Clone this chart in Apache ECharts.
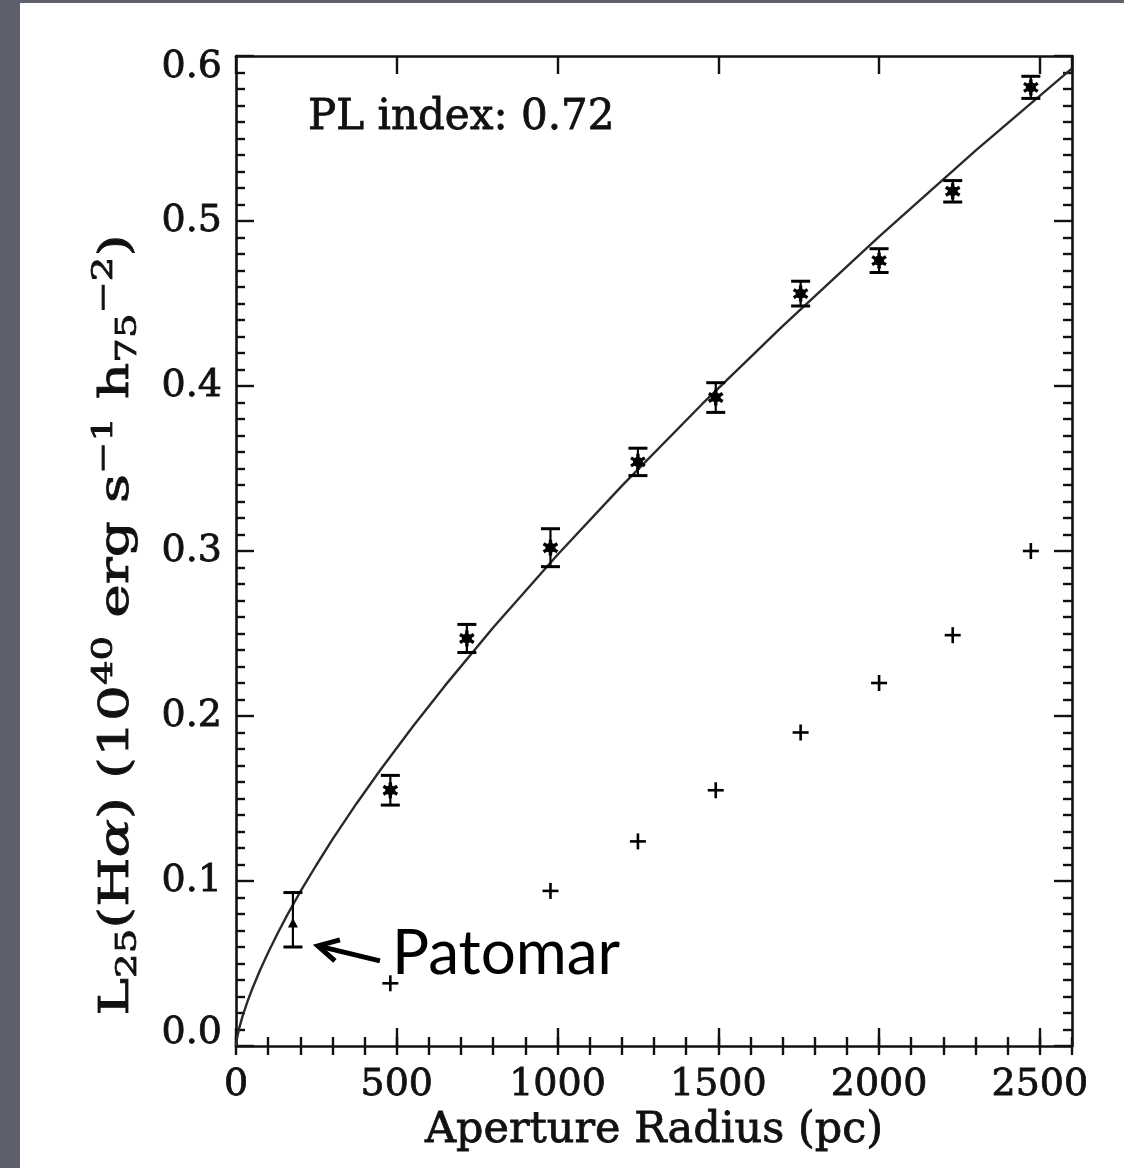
<!DOCTYPE html>
<html>
<head>
<meta charset="utf-8">
<script src="https://cdn.jsdelivr.net/npm/echarts@6/dist/echarts.min.js"></script>
<style>
  html, body { margin: 0; padding: 0; width: 1124px; height: 1168px; overflow: hidden; background: #5e606b; }
  #chart { position: absolute; left: 20px; top: 3px; width: 1104px; height: 1165px; background: #ffffff; }
</style>
</head>
<body>
<div id="chart"></div>
<script>
// Aperture H-alpha luminance measurements (asterisks with error bars)
const radius = [480, 718, 978, 1250, 1492, 1756, 2000, 2229, 2472];
const lum = [0.155, 0.247, 0.302, 0.354, 0.393, 0.456, 0.476, 0.518, 0.581];
const lumErr = [0.009, 0.0085, 0.0115, 0.0083, 0.009, 0.0075, 0.0072, 0.0065, 0.0067];

// Second measurement set (plain crosses)
const crossRadius = [480, 978, 1250, 1492, 1756, 2000, 2229, 2472];
const crossLum = [0.038, 0.094, 0.124, 0.155, 0.190, 0.220, 0.249, 0.300];

// Palomar point (triangle) with its error range
const patomarRadius = [177];
const patomarLum = [0.074];
const patomarLow = [0.060];
const patomarHigh = [0.093];

// Power-law fit curve, sampled along the aperture radius
const fitRadius = [0, 2, 5, 10, 20, 35, 50, 75, 100, 130, 160, 200, 250, 300, 375, 450, 550, 650, 800, 1000, 1200, 1450, 1700, 2000, 2300, 2600];
const fitLum = [0, 0.0034, 0.0066, 0.0108, 0.0178, 0.0266, 0.0344, 0.0461, 0.0567, 0.0685, 0.0796, 0.0935, 0.1097, 0.1252, 0.1470, 0.1676, 0.1936, 0.2184, 0.2536, 0.2977, 0.3395, 0.3891, 0.4363, 0.4905, 0.5426, 0.5925];

// Axis ticks
const xMajorStep = 500, xMinorStep = 100, xMax = 2600;
const yMajorStep = 0.1, yMax = 0.6;

const SERIF = '"DejaVu Serif", "Liberation Serif", serif';
const INK = '#111111';

const starData = radius.map((r, i) => [r, lum[i], lum[i] - lumErr[i], lum[i] + lumErr[i]]);
const crossData = crossRadius.map((r, i) => [r, crossLum[i]]);
const patomarData = patomarRadius.map((r, i) => [r, patomarLum[i], patomarLow[i], patomarHigh[i]]);
const fitData = fitRadius.map((r, i) => [r, fitLum[i]]);

const chart = echarts.init(document.getElementById('chart'), null, { renderer: 'canvas' });

function errorBarShapes(api, cap) {
  const c = api.coord([api.value(0), api.value(1)]);
  const lo = api.coord([api.value(0), api.value(2)]);
  const hi = api.coord([api.value(0), api.value(3)]);
  const st = { stroke: '#000', lineWidth: 2.2 };
  const capSt = { stroke: '#000', lineWidth: 3 };
  return {
    c,
    shapes: [
      { type: 'line', shape: { x1: c[0], y1: lo[1], x2: c[0], y2: hi[1] }, style: st },
      { type: 'line', shape: { x1: c[0] - cap, y1: lo[1], x2: c[0] + cap, y2: lo[1] }, style: capSt },
      { type: 'line', shape: { x1: c[0] - cap, y1: hi[1], x2: c[0] + cap, y2: hi[1] }, style: capSt }
    ]
  };
}

function renderStar(params, api) {
  const eb = errorBarShapes(api, 9.5);
  const c = eb.c;
  const children = eb.shapes.slice();
  [90, 30, 150].forEach(function (deg) {
    const a = deg * Math.PI / 180, L = 8;
    children.push({
      type: 'line',
      shape: { x1: c[0] - L * Math.cos(a), y1: c[1] - L * Math.sin(a), x2: c[0] + L * Math.cos(a), y2: c[1] + L * Math.sin(a) },
      style: { stroke: '#000', lineWidth: 3.4 }
    });
  });
  children.push({ type: 'circle', shape: { cx: c[0], cy: c[1], r: 5 }, style: { fill: '#000' } });
  return { type: 'group', children: children };
}

function renderPatomar(params, api) {
  const eb = errorBarShapes(api, 9.5);
  const c = eb.c;
  const children = eb.shapes.slice();
  children.push({
    type: 'polygon',
    shape: { points: [[c[0], c[1] - 6], [c[0] - 5, c[1] + 3.5], [c[0] + 5, c[1] + 3.5]] },
    style: { fill: '#000' }
  });
  return { type: 'group', children: children };
}

function renderCross(params, api) {
  const c = api.coord([api.value(0), api.value(1)]);
  const L = 8;
  const st = { stroke: '#000', lineWidth: 2.6 };
  return {
    type: 'group',
    children: [
      { type: 'line', shape: { x1: c[0] - L, y1: c[1], x2: c[0] + L, y2: c[1] }, style: st },
      { type: 'line', shape: { x1: c[0], y1: c[1] - L, x2: c[0], y2: c[1] + L }, style: st }
    ]
  };
}

const frameLine = { show: true, onZero: false, lineStyle: { color: INK, width: 2.6 } };
const majorTick = { show: true, inside: true, length: 18, lineStyle: { color: INK, width: 2.4 } };
const minorTickLine = { show: true, inside: true, length: 9, lineStyle: { color: INK, width: 2.4 } };
const heavyText = { textBorderColor: INK, textBorderWidth: 0.8 };

function xAxisCfg(position, step, major, withLabels) {
  return {
    type: 'value', position: position, min: 0, max: xMax, interval: step,
    axisLine: major ? frameLine : { show: false },
    axisTick: major ? majorTick : minorTickLine,
    splitLine: { show: false },
    axisLabel: withLabels ? Object.assign({
      show: true, color: INK, fontFamily: SERIF, fontSize: 38, margin: 20,
      showMaxLabel: false,
      formatter: function (v) { return v % xMajorStep === 0 ? String(v) : ''; }
    }, heavyText) : { show: false }
  };
}

function yAxisCfg(position, withLabels) {
  return {
    type: 'value', position: position, min: 0, max: yMax, interval: yMajorStep,
    axisLine: frameLine,
    axisTick: majorTick,
    minorTick: { show: true, splitNumber: 10, length: 9, lineStyle: { color: INK, width: 2.4 } },
    splitLine: { show: false },
    minorSplitLine: { show: false },
    axisLabel: withLabels ? Object.assign({
      show: true, color: INK, fontFamily: SERIF, fontSize: 38, margin: 14,
      formatter: function (v) {
        const s = v.toFixed(1);
        if (v <= 0) return '{lo|' + s + '}';
        if (v >= yMax - 1e-9) return '{hi|' + s + '}';
        return s;
      },
      rich: {
        lo: { fontFamily: SERIF, fontSize: 38, color: INK, padding: [0, 0, 26, 0], textBorderColor: INK, textBorderWidth: 0.8 },
        hi: { fontFamily: SERIF, fontSize: 38, color: INK, padding: [22, 0, 0, 0], textBorderColor: INK, textBorderWidth: 0.8 }
      }
    }, heavyText) : { show: false }
  };
}

const xBottom = xAxisCfg('bottom', xMajorStep, true, true);
xBottom.name = 'Aperture Radius (pc)';
xBottom.nameLocation = 'middle';
xBottom.nameGap = 50;
xBottom.nameTextStyle = Object.assign({ color: INK, fontFamily: SERIF, fontSize: 43 }, heavyText);

chart.setOption({
  animation: false,
  backgroundColor: '#ffffff',
  grid: { left: 216, right: 52, top: 53, bottom: 122 },
  xAxis: [
    xBottom,
    xAxisCfg('bottom', xMinorStep, false, false),
    xAxisCfg('top', xMajorStep, true, false),
    xAxisCfg('top', xMinorStep, false, false)
  ],
  yAxis: [
    yAxisCfg('left', true),
    yAxisCfg('right', false)
  ],
  series: [
    {
      type: 'line', data: fitData, xAxisIndex: 0, yAxisIndex: 0,
      showSymbol: false, smooth: false,
      lineStyle: { color: '#2a2a2a', width: 2.4 }, z: 2
    },
    { type: 'custom', data: starData, xAxisIndex: 0, yAxisIndex: 0, renderItem: renderStar, z: 3 },
    { type: 'custom', data: crossData, xAxisIndex: 0, yAxisIndex: 0, renderItem: renderCross, z: 3 },
    { type: 'custom', data: patomarData, xAxisIndex: 0, yAxisIndex: 0, renderItem: renderPatomar, z: 3 }
  ]
});

// Annotations: the label for the Palomar point sits next to it
const p = chart.convertToPixel({ gridIndex: 0 }, [patomarRadius[0], patomarLum[0]]);
const head = [p[0] + 25, p[1] + 22];
const tail = [p[0] + 87, p[1] + 37];

chart.setOption({
  graphic: [
    {
      type: 'text', x: 97, y: 622, rotation: Math.PI / 2, scaleX: 1.38,
      style: {
        text: '{m|L}{sb|25}{m|(H}{it|\u03b1}{m|) (10}{sp|40}{m| erg s}{sp|\u22121}{m| h}{sb|75}{sp|\u22122}{m|)}',
        fill: INK, align: 'center', verticalAlign: 'middle',
        textAlign: 'center', textVerticalAlign: 'middle',
        stroke: INK, lineWidth: 0.8,
        rich: {
          m: { fontFamily: SERIF, fontSize: 41, lineHeight: 52, fill: INK, stroke: INK, lineWidth: 0.8 },
          it: { fontFamily: SERIF, fontSize: 41, fontStyle: 'italic', lineHeight: 52, fill: INK, stroke: INK, lineWidth: 0.8 },
          sb: { fontFamily: SERIF, fontSize: 28, lineHeight: 27, verticalAlign: 'bottom', fill: INK, stroke: INK, lineWidth: 0.8 },
          sp: { fontFamily: SERIF, fontSize: 28, lineHeight: 27, verticalAlign: 'top', fill: INK, stroke: INK, lineWidth: 0.8 }
        }
      }
    },
    {
      type: 'text', x: 288, y: 115,
      style: {
        text: 'PL index: 0.72', fill: INK, stroke: INK, lineWidth: 0.8,
        font: '42px "DejaVu Serif"', align: 'left', verticalAlign: 'middle',
        textAlign: 'left', textVerticalAlign: 'middle'
      }
    },
    {
      type: 'polyline',
      shape: { points: [tail, head] },
      style: { stroke: '#000', lineWidth: 5, fill: null }
    },
    {
      type: 'polyline',
      shape: { points: [[head[0] + 17, head[1] + 15], head, [head[0] + 22, head[1] - 6]] },
      style: { stroke: '#000', lineWidth: 5, fill: null, lineJoin: 'miter' }
    },
    {
      type: 'text', x: p[0] + 99, y: p[1] + 30,
      style: {
        text: 'Patomar', fill: '#000',
        font: '62px Lato, "Noto Sans", sans-serif', align: 'left', verticalAlign: 'middle',
        textAlign: 'left', textVerticalAlign: 'middle'
      }
    }
  ]
});
</script>
</body>
</html>
